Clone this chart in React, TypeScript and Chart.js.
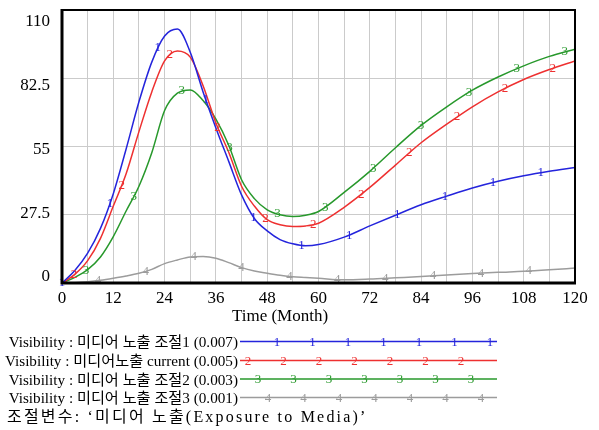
import React, { useEffect, useRef } from 'react';
import { Chart, registerables } from 'chart.js';

Chart.register(...registerables);

// ---- data ----
const MONTHS = [0, 3, 6, 9, 12, 15, 18, 21, 24, 27, 30, 33, 36, 39, 42, 45, 48, 51, 54, 57, 60, 66, 72, 78, 84, 90, 96, 102, 108, 114, 120];
const SERIES_1 = [0, 5, 12, 22, 36, 54, 73, 89, 99.5, 102.3, 93, 77, 62.5, 49, 35.5, 26, 21, 17.5, 15.8, 15, 15.5, 18.5, 23, 27.3, 31.5, 35, 38.3, 41, 43.2, 45, 46.5];
const SERIES_2 = [0, 3.5, 9, 18, 31, 44, 61, 77, 89.5, 93.5, 91, 79.5, 64.5, 52.7, 39, 31, 25.5, 23.5, 22.8, 23, 24.1, 30.5, 38.5, 47.5, 56.5, 64, 71, 77, 82, 86, 89.5];
const SERIES_3 = [0, 2.3, 5.4, 10.5, 18.7, 29, 39, 52.5, 69.5, 76.5, 77.8, 73.5, 66, 55.5, 41.6, 34, 29.5, 27.5, 26.8, 27.3, 28.8, 36.5, 45, 54.5, 63.5, 71, 77.7, 83, 87.5, 91.3, 94.2];
const SERIES_4 = [0, 0.1, 0.5, 1.1, 1.9, 2.8, 3.9, 5.5, 7.8, 9.3, 10.5, 10.7, 10, 8.2, 6.2, 4.8, 3.9, 3.1, 2.5, 2.2, 1.9, 1.3, 1.6, 2.1, 2.6, 3.2, 3.8, 4.3, 4.7, 5.3, 6];

const SERIES_LABELS = [
  'Visibility : 미디어 노출 조절1 (0.007)',
  'Visibility : 미디어노출 current (0.005)',
  'Visibility : 미디어 노출 조절2 (0.003)',
  'Visibility : 미디어 노출 조절3 (0.001)',
];
const MARKER_DIGITS = ['1', '2', '3', '4'];
const NOTE_TEXT = '조절변수: ‘미디어 노출(Exposure to Media)’';
const X_TITLE = 'Time (Month)';
const Y_TICKS = [0, 27.5, 55, 82.5, 110];
const X_MIN = 0;
const X_MAX = 120;
const X_LABEL_STEP = 12;
const X_GRID_STEP = 6;

// ---- styles ----
const COLORS = ['#2424dc', '#ee3030', '#27982b', '#9c9c9c'];
const MARKER_OFFSETS = [0, 2.8, 5.6, 8.4];
const MARKER_STEP = 11.2;
const SERIF = "'Liberation Serif', 'Times New Roman', 'Noto Sans CJK KR', serif";

const LEGEND_ROW_Y = [343, 362, 381, 399];
const LEGEND_LINE_Y = [341.5, 360.5, 379, 397.5];
const LEGEND_MARK_START = [277, 248, 258, 268];

const decorPlugin = {
  id: 'vensimDecor',
  afterDatasetsDraw(chart: any) {
    const ctx = chart.ctx;
    const xs = chart.scales.x;
    ctx.save();
    ctx.font = `13px ${SERIF}`;
    ctx.textAlign = 'center';
    ctx.textBaseline = 'middle';
    chart.data.datasets.forEach((_ds: any, i: number) => {
      const meta = chart.getDatasetMeta(i);
      const line = meta.dataset;
      ctx.fillStyle = COLORS[i];
      for (let m = MARKER_OFFSETS[i]; m <= X_MAX + 1e-6; m += MARKER_STEP) {
        const px = xs.getPixelForValue(m);
        let pt = line.interpolate({ x: px }, 'x');
        if (Array.isArray(pt)) pt = pt[0];
        if (pt) ctx.fillText(MARKER_DIGITS[i], px, pt.y);
      }
    });
    ctx.restore();
  },
  afterDraw(chart: any) {
    const ctx = chart.ctx;
    const { left, right, top, bottom } = chart.chartArea;
    const ys = chart.scales.y;
    ctx.save();
    // frame
    ctx.strokeStyle = '#000';
    ctx.lineWidth = 2;
    ctx.beginPath();
    ctx.moveTo(left, top);
    ctx.lineTo(right, top);
    ctx.lineTo(right, bottom);
    ctx.stroke();
    ctx.lineWidth = 3;
    ctx.beginPath();
    ctx.moveTo(left, top - 1);
    ctx.lineTo(left, bottom);
    ctx.lineTo(right + 1, bottom);
    ctx.stroke();

    // y labels (Vensim spreads them slightly)
    ctx.fillStyle = '#000';
    ctx.font = `17px ${SERIF}`;
    ctx.textAlign = 'right';
    ctx.textBaseline = 'middle';
    const ymax = Y_TICKS[Y_TICKS.length - 1];
    Y_TICKS.forEach((v) => {
      const y = ys.getPixelForValue(v) + (-6 + 18 * (v / ymax));
      ctx.fillText(String(v), 50, y);
    });

    // x title
    ctx.textAlign = 'center';
    ctx.font = `17px ${SERIF}`;
    ctx.fillText(X_TITLE, 280, 317);

    // legend
    ctx.font = `15.2px ${SERIF}`;
    SERIES_LABELS.forEach((lab, i) => {
      ctx.fillStyle = '#000';
      ctx.textAlign = 'right';
      ctx.fillText(lab, 238, LEGEND_ROW_Y[i]);
      ctx.strokeStyle = COLORS[i];
      ctx.lineWidth = 1.5;
      ctx.beginPath();
      ctx.moveTo(240, LEGEND_LINE_Y[i]);
      ctx.lineTo(497, LEGEND_LINE_Y[i]);
      ctx.stroke();
      ctx.fillStyle = COLORS[i];
      ctx.textAlign = 'center';
      ctx.save();
      ctx.font = `13px ${SERIF}`;
      for (let k = 0; k < 7; k++) {
        ctx.fillText(MARKER_DIGITS[i], LEGEND_MARK_START[i] + k * 35.5, LEGEND_LINE_Y[i] + 1);
      }
      ctx.restore();
    });
    ctx.fillStyle = '#000';
    ctx.textAlign = 'left';
    ctx.font = `16px ${SERIF}`;
    try { (ctx as any).letterSpacing = '2.2px'; } catch (e) { /* ignore */ }
    ctx.fillText(NOTE_TEXT, 7, 418);
    try { (ctx as any).letterSpacing = '0px'; } catch (e) { /* ignore */ }
    ctx.restore();
  },
};

export default function App() {
  const ref = useRef<HTMLCanvasElement | null>(null);
  useEffect(() => {
    if (!ref.current) return;
    const series = [SERIES_1, SERIES_2, SERIES_3, SERIES_4];
    const chart = new Chart(ref.current, {
      type: 'line',
      data: {
        datasets: series.map((s, i) => ({
          label: SERIES_LABELS[i],
          data: MONTHS.map((m, j) => ({ x: m, y: s[j] })),
          borderColor: COLORS[i],
          borderWidth: 1.5,
          pointRadius: 0,
          cubicInterpolationMode: 'monotone',
          fill: false,
        })),
      },
      options: {
        responsive: true,
        maintainAspectRatio: false,
        animation: false,
        events: [],
        layout: { padding: { top: 10, right: 24, bottom: 0, left: 0 } },
        plugins: { legend: { display: false }, tooltip: { enabled: false } },
        scales: {
          x: {
            type: 'linear',
            min: X_MIN,
            max: X_MAX,
            grid: { color: '#cbcbcb', lineWidth: 1, drawTicks: false },
            border: { display: false },
            ticks: {
              stepSize: X_GRID_STEP,
              autoSkip: false,
              maxRotation: 0,
              padding: 5,
              color: '#000',
              font: { family: SERIF, size: 17 },
              callback: (v: any) => (Number(v) % X_LABEL_STEP === 0 ? String(v) : ''),
            },
            afterFit: (s: any) => { s.height = 147; },
          },
          y: {
            min: 0,
            max: Y_TICKS[Y_TICKS.length - 1],
            grid: { color: '#cbcbcb', lineWidth: 1, drawTicks: false },
            border: { display: false },
            ticks: { stepSize: 27.5, display: false },
            afterFit: (s: any) => { s.width = 62; },
          },
        },
      },
      plugins: [decorPlugin],
    } as any);
    return () => chart.destroy();
  }, []);
  return (
    <div style={{ position: 'fixed', left: 0, top: 0, width: 599, height: 430, background: '#fff' }}>
      <canvas ref={ref} />
    </div>
  );
}
